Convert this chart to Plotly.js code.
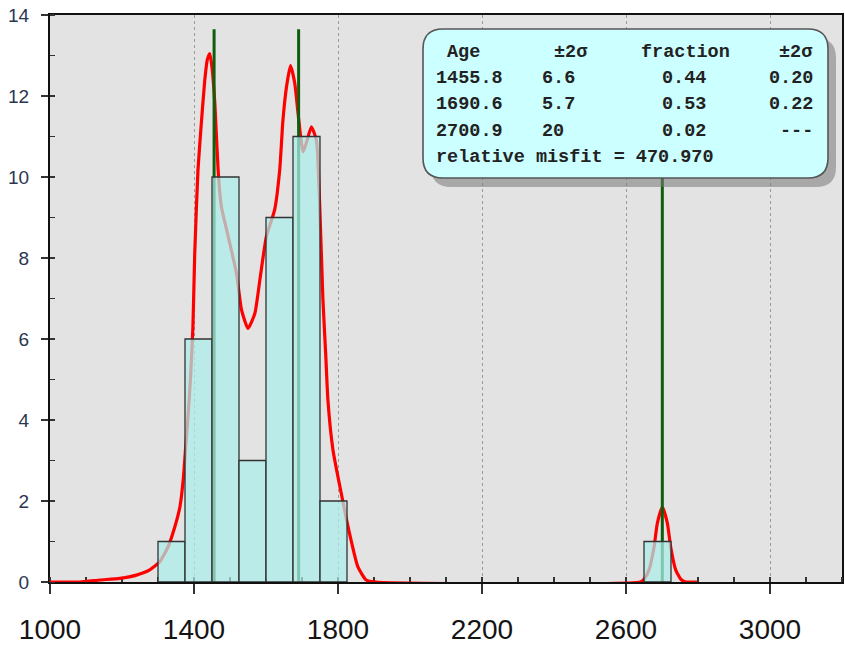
<!DOCTYPE html>
<html>
<head>
<meta charset="utf-8">
<script src="https://cdn.plot.ly/plotly-3.0.1.min.js"></script>
<style>
  html, body { margin: 0; padding: 0; background: #ffffff; }
  #chart { width: 845px; height: 646px; }
</style>
</head>
<body>
<div id="chart"></div>
<script>
// ---------- data ----------
const binCenters = [1337.5, 1412.5, 1487.5, 1562.5, 1637.5, 1712.5, 1787.5, 2687.5];
const binCounts  = [1, 6, 10, 3, 9, 11, 2, 1];
const binWidth   = 75;

const curveX = [1000, 1083, 1139, 1194, 1240, 1277, 1305, 1328, 1347, 1361, 1370, 1377, 1384, 1390, 1397, 1402, 1411, 1421, 1430, 1437, 1444, 1450, 1458, 1467, 1476, 1495, 1518, 1532, 1550, 1569, 1583, 1601, 1624, 1638, 1647, 1657, 1668, 1680, 1689, 1703, 1714, 1726, 1740, 1749, 1758, 1766, 1772, 1786, 1809, 1832, 1855, 1878, 1906, 2640, 2650, 2664, 2678, 2687, 2701, 2715, 2724, 2738, 2752, 2766, 2797];
const curveY = [0, 0, 0.05, 0.09, 0.17, 0.3, 0.5, 0.87, 1.37, 1.86, 2.52, 3.34, 4.17, 4.99, 6.3, 8.1, 10.17, 11.4, 12.4, 12.9, 13.05, 12.7, 11.8, 10.17, 9.27, 8.53, 7.62, 6.72, 6.26, 6.63, 7.46, 8.53, 9.19, 10.17, 11.4, 12.23, 12.75, 12.31, 11.57, 10.62, 10.9, 11.24, 10.91, 9.35, 7.0, 5.6, 4.49, 3.26, 2.19, 1.2, 0.38, 0.05, 0, 0, 0.07, 0.3, 0.87, 1.45, 1.85, 1.45, 0.87, 0.3, 0.07, 0, 0];

const peakAges      = [1455.8, 1690.6, 2700.9];
const peakAgeErr    = ["6.6", "5.7", "20"];
const peakFractions = ["0.44", "0.53", "0.02"];
const peakFracErr   = ["0.20", "0.22", "---"];
const peakLineTop   = [13.65, 13.65, 13.65];
const relMisfit     = "470.970";
const headerLabels  = ["Age", "±2σ", "fraction", "±2σ"];

const xTickVals = [1000, 1400, 1800, 2200, 2600, 3000];
const yTickVals = [0, 2, 4, 6, 8, 10, 12, 14];
const xRange = [1000, 3200];
const yRange = [0, 14];

// ---------- traces ----------
const traces = [];
traces.push({
  type: 'scatter', mode: 'lines', x: curveX, y: curveY,
  line: { color: '#ff0000', width: 3.2, shape: 'spline', smoothing: 0.5 },
  hoverinfo: 'skip', showlegend: false
});
peakAges.forEach((a, i) => {
  traces.push({
    type: 'scatter', mode: 'lines', x: [a, a], y: [0, peakLineTop[i]],
    line: { color: '#0d5f0d', width: 3 }, hoverinfo: 'skip', showlegend: false
  });
});
// bars on an overlaid (identical) axis pair so they sit on top of the curve
traces.push({
  type: 'bar', x: binCenters, y: binCounts, width: binWidth, xaxis: 'x2', yaxis: 'y2',
  marker: { color: 'rgba(172,238,236,0.72)', line: { color: '#333333', width: 1.3 } },
  hoverinfo: 'skip', showlegend: false
});

// ---------- layout helpers (pixel -> paper) ----------
const L = 50, R = 842, T = 15, B = 582;
const px = v => (v - L) / (R - L);
const py = v => (B - v) / (B - T);

function roundRect(x0, y0, x1, y1, r) {
  const rx = r / (R - L), ry = r / (B - T);
  const X0 = px(x0), X1 = px(x1), Y0 = py(y0), Y1 = py(y1);
  return `M ${X0 + rx} ${Y0} L ${X1 - rx} ${Y0} Q ${X1} ${Y0} ${X1} ${Y0 - ry} ` +
         `L ${X1} ${Y1 + ry} Q ${X1} ${Y1} ${X1 - rx} ${Y1} L ${X0 + rx} ${Y1} ` +
         `Q ${X0} ${Y1} ${X0} ${Y1 + ry} L ${X0} ${Y0 - ry} Q ${X0} ${Y0} ${X0 + rx} ${Y0} Z`;
}

const shapes = [
  { type: 'path', xref: 'paper', yref: 'paper', layer: 'above',
    path: roundRect(431, 38, 836, 187, 20),
    fillcolor: 'rgba(120,120,120,0.55)', line: { width: 0 } },
  { type: 'path', xref: 'paper', yref: 'paper', layer: 'above',
    path: roundRect(423, 29, 828, 178, 20),
    fillcolor: '#ccffff', line: { color: '#555555', width: 1.6 } }
];

const monoFont = { family: '"Liberation Mono", "Courier New", monospace', size: 18.5, color: '#222222', weight: 'bold' };
const annotations = [];
function cell(text, xpx, ypx, anchor) {
  annotations.push({ xref: 'paper', yref: 'paper', x: px(xpx), y: py(ypx), text: text,
    showarrow: false, xanchor: anchor, yanchor: 'middle', font: monoFont, borderpad: 0 });
}
const rowY = [52, 78, 104, 131, 157];
cell(headerLabels[0], 446, rowY[0], 'left');
cell(headerLabels[1], 553, rowY[0], 'left');
cell(headerLabels[2], 731, rowY[0], 'right');
cell(headerLabels[3], 814, rowY[0], 'right');
peakAges.forEach((a, i) => {
  const y = rowY[i + 1];
  cell(a.toFixed(1), 435, y, 'left');
  cell(peakAgeErr[i], 541, y, 'left');
  cell(peakFractions[i], 707, y, 'right');
  cell(peakFracErr[i], 814, y, 'right');
});
cell('relative misfit = ' + relMisfit, 435, rowY[4], 'left');

const layout = {
  width: 845, height: 646,
  margin: { l: L, r: 845 - R, t: T, b: 646 - B, pad: 0 },
  paper_bgcolor: '#ffffff', plot_bgcolor: '#e3e3e3',
  barmode: 'overlay',
  xaxis: {
    range: xRange, tickvals: xTickVals, ticktext: xTickVals.map(String),
    showline: true, linecolor: '#111111', linewidth: 2, mirror: true,
    ticks: 'outside', ticklen: 10, tickwidth: 1.5, tickcolor: '#333333',
    minor: { dtick: 100, tick0: 1000, ticks: 'inside', ticklen: 5, tickwidth: 1.2, tickcolor: '#333333', showgrid: false },
    showgrid: true, gridcolor: '#9a9a9a', griddash: 'dot', gridwidth: 1,
    zeroline: false, layer: 'below traces',
    tickfont: { family: '"Liberation Sans", Arial, sans-serif', size: 28, color: '#141414' },
    ticklabelstandoff: 11, fixedrange: true
  },
  yaxis: {
    range: yRange, tickvals: yTickVals, ticktext: yTickVals.map(String),
    showline: true, linecolor: '#111111', linewidth: 2, mirror: true,
    ticks: 'outside', ticklen: 7, tickwidth: 1.5, tickcolor: '#333333',
    minor: { dtick: 1, tick0: 0, ticks: 'inside', ticklen: 5, tickwidth: 1.2, tickcolor: '#333333', showgrid: false },
    showgrid: false, zeroline: false, layer: 'below traces',
    tickfont: { family: '"Liberation Sans", Arial, sans-serif', size: 19, color: '#2a3650' },
    ticklabelstandoff: 8, fixedrange: true
  },
  xaxis2: { overlaying: 'x', range: xRange, visible: false, fixedrange: true },
  yaxis2: { overlaying: 'y', range: yRange, visible: false, fixedrange: true },
  shapes: shapes,
  annotations: annotations,
  showlegend: false
};

Plotly.newPlot('chart', traces, layout, { staticPlot: true, displayModeBar: false });
</script>
</body>
</html>
